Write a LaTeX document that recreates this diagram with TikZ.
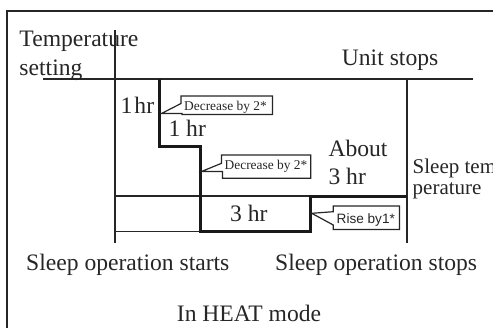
\documentclass[tikz,border=0pt]{standalone}
\usepackage{fontspec}
\setmainfont{Liberation Serif}
\newfontfamily\calloutsans{Liberation Sans}
\begin{document}
\begin{tikzpicture}[x=1pt,y=-1pt,
  thinline/.style={line width=1.2pt,draw=black!85},
  heavyline/.style={line width=3pt,draw=black!90},
  frameline/.style={line width=2pt,draw=black!85},
  callout/.style={line width=1.2pt,draw=black!85,fill=white,line join=miter},
  lbl/.style={inner sep=0pt,anchor=base west,font=\fontsize{23.6}{27}\selectfont,text=black!85},
  lblside/.style={inner sep=0pt,anchor=base west,font=\fontsize{21}{24}\selectfont,text=black!85},
  small/.style={inner sep=0pt,anchor=base west,font=\fontsize{13.4}{15}\selectfont,text=black!85},
  smallsans/.style={inner sep=0pt,anchor=base west,font=\calloutsans\fontsize{13.6}{15}\selectfont,text=black!85}]
\useasboundingbox (0,0) rectangle (493,327);
% frame
\coordinate (fbl) at (7,340);
\coordinate (ftl) at (7,11);
\coordinate (ftr) at (500,11);
\draw[frameline] (fbl) -- (ftl) -- (ftr);
% axes
\coordinate (ytop) at (115,30);
\coordinate (ybot) at (115,243);
\coordinate (hl) at (43,79);
\coordinate (hr) at (473,79);
\coordinate (rtop) at (407,79);
\coordinate (rbot) at (407,243);
\draw[thinline] (ytop) -- (ybot);
\draw[thinline] (hl) -- (hr);
\draw[thinline] (rtop) -- (rbot);
\coordinate (m1l) at (115,196);
\coordinate (m1r) at (310,196);
\coordinate (m2l) at (115,231.5);
\coordinate (m2r) at (200,231.5);
\draw[thinline] (m1l) -- (m1r);
\draw[thinline] (m2l) -- (m2r);
% heavy step line
\coordinate (s0) at (159,79);
\coordinate (s1) at (159,146);
\coordinate (s2) at (200,146);
\coordinate (s3) at (200,231.5);
\coordinate (s4) at (310,231.5);
\coordinate (s5) at (310,196);
\coordinate (s6) at (407,196);
\draw[heavyline,line join=miter] (s0) -- (s1) -- (s2) -- (s3) -- (s4) -- (s5) -- (s6);
% callout 1
\draw[callout] (161.5,113.5) -- (181,103.5) -- (181,96) -- (272.5,96) -- (272.5,114.5) -- (182,114.5) -- (182,113.5) -- cycle;
\node[small] (c1) at (184,110) {Decrease by 2*};
% callout 2
\draw[callout] (201.5,171.5) -- (221.5,163.3) -- (221.5,155) -- (310.7,155) -- (310.7,178.3) -- (222.5,178.3) -- (222.5,171.5) -- cycle;
\node[small] (c2) at (224.5,169) {Decrease by 2*};
% callout 3
\draw[callout] (333.3,206) -- (399.5,206) -- (399.5,229.5) -- (333.3,229.5) -- (333.3,225) -- (311.7,213.3) -- (333.3,211.7) -- cycle;
\node[smallsans] (c3) at (336.5,223) {Rise by1*};
% labels
\node[lbl] (temp) at (19.3,46.7) {Temperature};
\node[lbl] (sett) at (19.3,75) {setting};
\node[lbl] (unit) at (341.7,65) {Unit stops};
\node[lbl] (h1a) at (120.5,113.3) {1\hspace{2pt}hr};
\node[lbl] (h1b) at (168.3,136.7) {1 hr};
\node[lbl] (about) at (328.3,156.5) {About};
\node[lbl] (h3a) at (328.3,184) {3 hr};
\node[lbl] (h3b) at (230,221.7) {3 hr};
\node[lblside] (stem) at (412.5,173.3) {Sleep tem};
\node[lblside] (sper) at (412.5,194) {perature};
\node[lbl] (sstart) at (26,270) {Sleep operation starts};
\node[lbl] (sstop) at (275,270) {Sleep operation stops};
\node[lbl] (mode) at (176.7,321.7) {In HEAT mode};
\end{tikzpicture}
\end{document}
